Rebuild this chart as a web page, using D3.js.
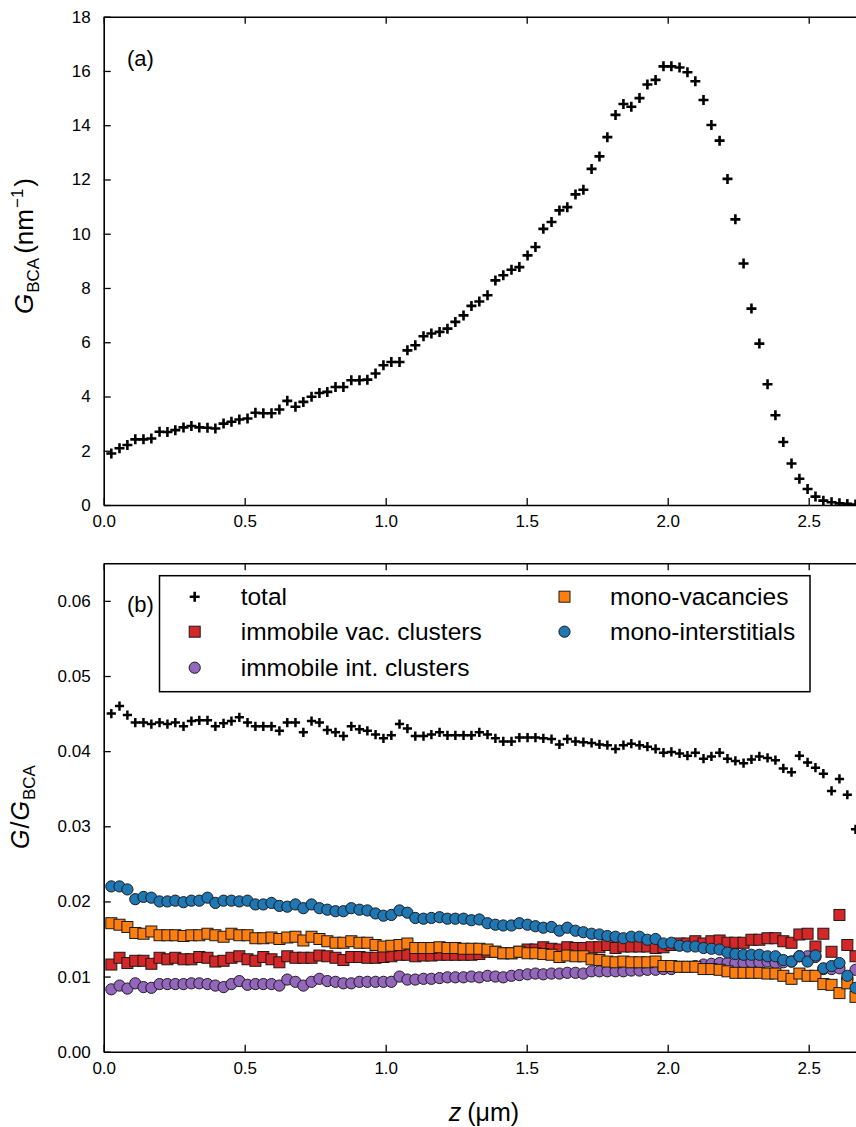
<!DOCTYPE html>
<html><head><meta charset="utf-8">
<script src="https://cdn.jsdelivr.net/npm/d3@7"></script>
<style>body{margin:0;background:#fff} svg text{font-family:"Liberation Sans",Arial,Helvetica,sans-serif}</style>
</head><body><svg id="c" width="856" height="1127"></svg>
<script>
// depth bin centres (µm)
const depth = [0.027,0.056,0.084,0.112,0.141,0.169,0.198,0.226,0.254,0.283,
0.311,0.339,0.368,0.396,0.425,0.453,0.481,0.510,0.538,0.566,
0.595,0.623,0.651,0.680,0.708,0.737,0.765,0.793,0.822,0.850,
0.878,0.907,0.935,0.964,0.992,1.020,1.049,1.077,1.105,1.134,
1.162,1.191,1.219,1.247,1.276,1.304,1.332,1.361,1.389,1.417,
1.446,1.474,1.503,1.531,1.559,1.588,1.616,1.644,1.673,1.701,
1.730,1.758,1.786,1.815,1.843,1.871,1.900,1.928,1.957,1.985,
2.013,2.042,2.070,2.098,2.127,2.155,2.184,2.212,2.240,2.269,
2.297,2.325,2.354,2.382,2.410,2.439,2.467,2.496,2.524,2.552,
2.581,2.609,2.637,2.666];

// panel (a): G_BCA (nm^-1)
const gBCA = [1.90,2.09,2.21,2.42,2.42,2.45,2.70,2.69,2.76,2.86,
2.91,2.86,2.85,2.82,3.00,3.07,3.15,3.19,3.40,3.38,
3.38,3.52,3.84,3.62,3.80,3.99,4.13,4.17,4.35,4.35,
4.60,4.60,4.62,4.85,5.15,5.27,5.27,5.70,5.89,6.22,
6.32,6.38,6.50,6.75,6.99,7.34,7.50,7.73,8.28,8.47,
8.67,8.77,9.20,9.51,10.18,10.43,10.86,10.98,11.45,11.62,
12.39,12.85,13.56,14.38,14.78,14.68,15.00,15.50,15.67,16.17,
16.17,16.13,15.95,15.62,14.93,14.01,13.43,12.02,10.53,8.90,
7.24,5.95,4.45,3.31,2.32,1.53,0.97,0.59,0.31,0.16,
0.10,0.06,0.04,0.02];

// panel (b): G / G_BCA
const total = [0.0450,0.0460,0.0448,0.0438,0.0438,0.0436,0.0438,0.0436,0.0438,0.0433,
0.0440,0.0441,0.0441,0.0433,0.0437,0.0440,0.0445,0.0438,0.0433,0.0433,
0.0433,0.0427,0.0438,0.0438,0.0425,0.0440,0.0438,0.0428,0.0425,0.0420,
0.0433,0.0429,0.0427,0.0422,0.0417,0.0421,0.0436,0.0430,0.0420,0.0420,
0.0422,0.0425,0.0421,0.0421,0.0421,0.0421,0.0425,0.0422,0.0417,0.0413,
0.0413,0.0418,0.0418,0.0418,0.0417,0.0416,0.0409,0.0416,0.0413,0.0412,
0.0411,0.0409,0.0408,0.0403,0.0408,0.0410,0.0408,0.0406,0.0403,0.0398,
0.0399,0.0397,0.0394,0.0398,0.0390,0.0393,0.0398,0.0390,0.0387,0.0384,
0.0389,0.0393,0.0391,0.0388,0.0377,0.0372,0.0394,0.0385,0.0378,0.0370,
0.0347,0.0363,0.0342,0.0296];

const immobileVac = [0.0116,0.0125,0.0118,0.0121,0.0121,0.0117,0.0125,0.0123,0.0125,0.0123,
0.0123,0.0126,0.0125,0.0120,0.0121,0.0125,0.0127,0.0123,0.0121,0.0126,
0.0123,0.0119,0.0127,0.0125,0.0125,0.0125,0.0128,0.0127,0.0125,0.0122,
0.0126,0.0126,0.0125,0.0125,0.0126,0.0127,0.0129,0.0129,0.0127,0.0128,
0.0128,0.0129,0.0129,0.0129,0.0129,0.0129,0.0130,0.0133,0.0133,0.0131,
0.0131,0.0133,0.0136,0.0136,0.0139,0.0137,0.0136,0.0139,0.0138,0.0138,
0.0139,0.0139,0.0142,0.0138,0.0140,0.0140,0.0140,0.0140,0.0138,0.0139,
0.0142,0.0144,0.0144,0.0147,0.0144,0.0147,0.0148,0.0145,0.0145,0.0145,
0.0149,0.0149,0.0151,0.0151,0.0147,0.0145,0.0156,0.0157,0.0140,0.0157,
0.0133,0.0182,0.0142,0.0127];

const immobileInt = [0.0083,0.0088,0.0084,0.0091,0.0086,0.0085,0.0090,0.0090,0.0090,0.0090,
0.0091,0.0091,0.0090,0.0088,0.0086,0.0090,0.0094,0.0089,0.0090,0.0090,
0.0090,0.0088,0.0096,0.0093,0.0088,0.0093,0.0097,0.0094,0.0093,0.0091,
0.0091,0.0093,0.0093,0.0093,0.0093,0.0093,0.0100,0.0096,0.0096,0.0097,
0.0097,0.0098,0.0099,0.0099,0.0099,0.0100,0.0099,0.0101,0.0100,0.0099,
0.0101,0.0102,0.0103,0.0104,0.0103,0.0104,0.0104,0.0105,0.0105,0.0104,
0.0107,0.0107,0.0107,0.0107,0.0107,0.0108,0.0108,0.0109,0.0109,0.0110,
0.0110,0.0113,0.0113,0.0114,0.0116,0.0117,0.0118,0.0118,0.0118,0.0118,
0.0119,0.0119,0.0120,0.0118,0.0119,0.0120,0.0127,0.0127,0.0126,0.0110,
0.0110,0.0111,0.0097,0.0109];

const monoVac = [0.0171,0.0169,0.0166,0.0158,0.0157,0.0160,0.0155,0.0155,0.0155,0.0154,
0.0155,0.0155,0.0157,0.0155,0.0153,0.0157,0.0155,0.0155,0.0151,0.0151,
0.0152,0.0150,0.0152,0.0153,0.0148,0.0153,0.0150,0.0147,0.0145,0.0145,
0.0147,0.0145,0.0145,0.0142,0.0140,0.0141,0.0142,0.0144,0.0138,0.0138,
0.0138,0.0139,0.0138,0.0138,0.0137,0.0137,0.0137,0.0136,0.0133,0.0131,
0.0131,0.0133,0.0131,0.0131,0.0130,0.0129,0.0126,0.0128,0.0127,0.0127,
0.0123,0.0122,0.0120,0.0119,0.0120,0.0119,0.0119,0.0119,0.0120,0.0114,
0.0114,0.0113,0.0113,0.0113,0.0110,0.0110,0.0109,0.0107,0.0105,0.0105,
0.0105,0.0105,0.0104,0.0104,0.0101,0.0097,0.0104,0.0101,0.0101,0.0090,
0.0089,0.0078,0.0091,0.0073];

const monoInt = [0.0220,0.0220,0.0216,0.0203,0.0206,0.0205,0.0200,0.0200,0.0201,0.0199,
0.0201,0.0201,0.0205,0.0198,0.0201,0.0201,0.0200,0.0201,0.0196,0.0196,
0.0198,0.0194,0.0193,0.0196,0.0191,0.0196,0.0191,0.0189,0.0187,0.0187,
0.0191,0.0189,0.0188,0.0184,0.0181,0.0182,0.0188,0.0185,0.0178,0.0177,
0.0178,0.0179,0.0177,0.0177,0.0177,0.0175,0.0176,0.0171,0.0169,0.0168,
0.0168,0.0171,0.0169,0.0167,0.0165,0.0166,0.0161,0.0165,0.0161,0.0159,
0.0157,0.0156,0.0154,0.0153,0.0151,0.0153,0.0153,0.0149,0.0150,0.0144,
0.0145,0.0141,0.0140,0.0140,0.0138,0.0137,0.0136,0.0132,0.0130,0.0129,
0.0129,0.0129,0.0127,0.0127,0.0122,0.0120,0.0127,0.0120,0.0128,0.0111,
0.0114,0.0118,0.0101,0.0085];

const xTicks = [0, 0.5, 1.0, 1.5, 2.0, 2.5];
const yTicksA = [0,2,4,6,8,10,12,14,16,18];
const yTicksB = [0,0.01,0.02,0.03,0.04,0.05,0.06];
const legendItems = [
  {label:"total", key:"total"},
  {label:"immobile vac. clusters", key:"ivac"},
  {label:"immobile int. clusters", key:"iint"},
  {label:"mono-vacancies", key:"mvac"},
  {label:"mono-interstitials", key:"mint"}
];

const svg = d3.select("#c");
svg.append("rect").attr("width",856).attr("height",1127).attr("fill","#fff");

const X0 = 103.7;
const x = d3.scaleLinear().domain([0,3]).range([X0, X0 + 3*282]);
const yA = d3.scaleLinear().domain([0,18]).range([505, 16.7]);
const yB = d3.scaleLinear().domain([0,0.065]).range([1051.7, 563.3]);
const RIGHT = 856;

const defs = svg.append("defs");
function clip(id, y0, y1){
  defs.append("clipPath").attr("id",id).append("rect")
    .attr("x",X0).attr("y",y0).attr("width",RIGHT-X0).attr("height",y1-y0);
}
clip("clipA", yA(18), yA(0));
clip("clipB", yB(0.065), yB(0));

const plusPath = s => `M${-s},0H${s}M0,${-s}V${s}`;
const COL = {ivac:"#d62728", iint:"#9467bd", mvac:"#ff7f0e", mint:"#1f77b4"};
const EDGE = "#1a1a1a";

function styleAxis(g, fs){
  g.attr("font-size", fs).attr("font-family", '"Liberation Sans",Arial,sans-serif');
  g.selectAll(".domain").attr("stroke","#000").attr("stroke-width",1.6);
  g.selectAll(".tick line").attr("stroke","#000").attr("stroke-width",1.3);
  g.selectAll(".tick text").attr("fill","#000");
}

function panelAxes(yScale, ticks, fmt, yTop, yBot){
  // bottom
  const gb = svg.append("g").attr("transform",`translate(0,${yBot})`)
    .call(d3.axisBottom(x).tickValues(xTicks).tickFormat(d3.format(".1f")).tickSizeInner(-7).tickSizeOuter(0).tickPadding(10));
  styleAxis(gb, 17);
  // top
  const gt = svg.append("g").attr("transform",`translate(0,${yTop})`)
    .call(d3.axisTop(x).tickValues(xTicks).tickFormat("").tickSizeInner(-7).tickSizeOuter(0));
  styleAxis(gt, 17);
  // left
  const gl = svg.append("g").attr("transform",`translate(${X0},0)`)
    .call(d3.axisLeft(yScale).tickValues(ticks).tickFormat(fmt).tickSizeInner(-7).tickSizeOuter(0).tickPadding(13));
  styleAxis(gl, 17);
}

// ---------- panel (a)
const gA = svg.append("g").attr("clip-path","url(#clipA)");
gA.selectAll("path.pa").data(gBCA).join("path")
  .attr("transform",(d,i)=>`translate(${x(depth[i])},${yA(d)})`)
  .attr("d", plusPath(5)).attr("stroke","#000").attr("stroke-width",2.6).attr("fill","none");
panelAxes(yA, yTicksA, d3.format("d"), yA(18), yA(0));

svg.append("text").attr("x",127).attr("y",66).attr("font-size",22).text("(a)");

const labA = svg.append("text").attr("transform","translate(33,246) rotate(-90)")
  .attr("text-anchor","middle").attr("font-size",26).attr("fill","#000");
labA.append("tspan").attr("font-style","italic").text("G");
labA.append("tspan").attr("font-size",17).attr("dy",6).attr("dx",1).text("BCA");
labA.append("tspan").attr("dy",-6).attr("dx",4).text("(nm");
labA.append("tspan").attr("font-size",17).attr("dy",-10).attr("dx",1).text("−1");
labA.append("tspan").attr("dy",10).attr("dx",2).text(")");

// ---------- panel (b)
const gB = svg.append("g").attr("clip-path","url(#clipB)");
gB.selectAll("path.tot").data(total).join("path")
  .attr("transform",(d,i)=>`translate(${x(depth[i])},${yB(d)})`)
  .attr("d", plusPath(4.6)).attr("stroke","#000").attr("stroke-width",2.5).attr("fill","none");
function squares(arr, col){
  gB.append("g").selectAll("rect").data(arr).join("rect")
    .attr("x",(d,i)=>x(depth[i])-5.5).attr("y",d=>yB(d)-5.5)
    .attr("width",11).attr("height",11)
    .attr("fill",col).attr("stroke",EDGE).attr("stroke-width",1);
}
function circles(arr, col){
  gB.append("g").selectAll("circle").data(arr).join("circle")
    .attr("cx",(d,i)=>x(depth[i])).attr("cy",d=>yB(d)).attr("r",5.6)
    .attr("fill",col).attr("stroke",EDGE).attr("stroke-width",1);
}
squares(immobileVac, COL.ivac);
circles(immobileInt, COL.iint);
squares(monoVac, COL.mvac);
circles(monoInt, COL.mint);
panelAxes(yB, yTicksB, d3.format(".2f"), yB(0.065), yB(0));

svg.append("text").attr("x",127).attr("y",612).attr("font-size",22).text("(b)");

// legend
const lg = svg.append("g");
lg.append("rect").attr("x",159.5).attr("y",575.7).attr("width",650.5).attr("height",116)
  .attr("fill","#fff").attr("stroke","#000").attr("stroke-width",1.5);
const rowsY = [596.7, 631.7, 667.7];
const colMX = [194.7, 564.5], colTX = [240.7, 610];
legendItems.forEach((it, k)=>{
  const c = k < 3 ? 0 : 1, r = k < 3 ? k : k-3;
  const mx = colMX[c], my = rowsY[r];
  if (it.key === "total") {
    lg.append("path").attr("transform",`translate(${mx},${my})`).attr("d",plusPath(5))
      .attr("stroke","#000").attr("stroke-width",2.6).attr("fill","none");
  } else if (it.key === "ivac" || it.key === "mvac") {
    lg.append("rect").attr("x",mx-5.5).attr("y",my-5.5).attr("width",11).attr("height",11)
      .attr("fill",COL[it.key]).attr("stroke",EDGE).attr("stroke-width",1);
  } else {
    lg.append("circle").attr("cx",mx).attr("cy",my).attr("r",5.6)
      .attr("fill",COL[it.key]).attr("stroke",EDGE).attr("stroke-width",1);
  }
  lg.append("text").attr("x",colTX[c]).attr("y",my+8.5).attr("font-size",24.5).text(it.label);
});

const labB = svg.append("text").attr("transform","translate(29,807) rotate(-90)")
  .attr("text-anchor","middle").attr("font-size",25).attr("fill","#000");
labB.append("tspan").attr("font-style","italic").text("G");
labB.append("tspan").attr("dx",1).text("/");
labB.append("tspan").attr("font-style","italic").attr("dx",1).text("G");
labB.append("tspan").attr("font-size",17).attr("dy",6).attr("dx",1).text("BCA");

const labX = svg.append("text").attr("x",484).attr("y",1121).attr("text-anchor","middle").attr("font-size",25);
labX.append("tspan").attr("font-style","italic").text("z");
labX.append("tspan").attr("dx",6).text("(μm)");
</script></body></html>
